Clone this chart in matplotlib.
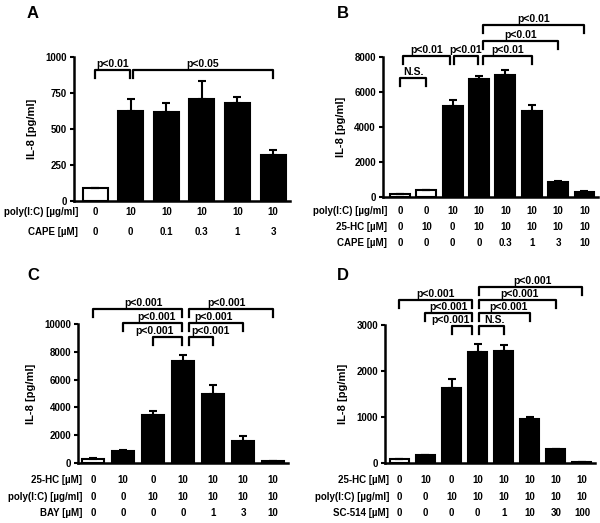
import matplotlib
matplotlib.use('Agg')
import matplotlib.pyplot as plt

plt.rcParams['font.family'] = ['Liberation Sans', 'DejaVu Sans']
plt.rcParams['font.weight'] = 'bold'

# Panel A
a_vals = [89, 624, 616, 711, 682, 322]
a_err = [0, 87, 66, 124, 40, 31]
a_white = [0]
a_rows = [('poly(I:C) [µg/ml]', ['0', '10', '10', '10', '10', '10']),
          ('CAPE [µM]', ['0', '0', '0.1', '0.3', '1', '3'])]
a_ticks = [0, 250, 500, 750, 1000]
# (left, right, height, text, text x or None)
a_brackets = [(0, 0.97, 910, 'p<0.01', None), (1.05, 5, 910, 'p<0.05', None)]

# Panel B
b_vals = [200, 380, 5187, 6723, 6948, 4906, 870, 300]
b_err = [0, 0, 375, 187, 337, 375, 40, 20]
b_white = [0, 1]
b_rows = [('poly(I:C) [µg/ml]', ['0', '0', '10', '10', '10', '10', '10', '10']),
          ('25-HC [µM]', ['0', '10', '0', '10', '10', '10', '10', '10']),
          ('CAPE [µM]', ['0', '0', '0', '0', '0.3', '1', '3', '10'])]
b_ticks = [0, 2000, 4000, 6000, 8000]
b_brackets = [(0, 1, 6800, 'N.S.', None), (0.1, 1.9, 8057, 'p<0.01', None),
              (2.05, 2.95, 8057, 'p<0.01', None), (3.15, 5, 8057, 'p<0.01', None),
              (3.15, 6, 8914, 'p<0.01', None), (3.15, 7, 9829, 'p<0.01', None)]

# Panel C
c_vals = [300, 900, 3450, 7321, 4976, 1579, 120]
c_err = [40, 60, 263, 454, 646, 335, 20]
c_white = [0]
c_rows = [('25-HC [µM]', ['0', '10', '0', '10', '10', '10', '10']),
          ('poly(I:C) [µg/ml]', ['0', '0', '10', '10', '10', '10', '10']),
          ('BAY [µM]', ['0', '0', '0', '0', '1', '3', '10'])]
c_ticks = [0, 2000, 4000, 6000, 8000, 10000]
c_brackets = [(0, 2.95, 11100, 'p<0.001', 1.67), (1, 2.95, 10070, 'p<0.001', 2.1),
              (2, 2.95, 9065, 'p<0.001', 2.05), (3.2, 4, 9065, 'p<0.001', 3.9),
              (3.2, 5, 10070, 'p<0.001', 4.03), (3.2, 6, 11100, 'p<0.001', 4.45)]

# Panel D
d_vals = [80, 166, 1627, 2422, 2444, 962, 296, 22]
d_err = [0, 0, 202, 166, 130, 28, 15, 0]
d_white = [0]
d_rows = [('25-HC [µM]', ['0', '10', '0', '10', '10', '10', '10', '10']),
          ('poly(I:C) [µg/ml]', ['0', '0', '10', '10', '10', '10', '10', '10']),
          ('SC-514 [µM]', ['0', '0', '0', '0', '1', '10', '30', '100'])]
d_ticks = [0, 1000, 2000, 3000]
d_brackets = [(0, 2.8, 3537, 'p<0.001', None), (1, 2.8, 3261, 'p<0.001', None),
              (2, 2.8, 2972, 'p<0.001', 1.95), (3.07, 4, 2972, 'N.S.', 3.64),
              (3.07, 5, 3261, 'p<0.001', 4.2), (3.07, 6, 3537, 'p<0.001', 4.6),
              (3.07, 7, 3826, 'p<0.001', 5.1)]


def panel(ax, vals, err, white, rows, ticks, brackets, width, xlim, drop, row_off):
    n = len(vals)
    x = list(range(n))
    colors = ['white' if i in white else 'black' for i in x]
    ax.bar(x, vals, width=width, color=colors, edgecolor='black', linewidth=1.5,
           yerr=[[0] * n, err], error_kw=dict(ecolor='black', elinewidth=1.5, capsize=3, capthick=1.5),
           zorder=2)
    ax.set_xlim(*xlim)
    ax.set_ylim(0, ticks[-1])
    ax.set_yticks(ticks)
    ax.set_xticks([])
    ax.spines['top'].set_visible(False)
    ax.spines['right'].set_visible(False)
    ax.spines['left'].set_linewidth(1.8)
    ax.spines['bottom'].set_linewidth(1.8)
    ax.tick_params(axis='y', length=3, width=1.5, labelsize=7, pad=2)
    ax.set_ylabel('IL-8 [pg/ml]', fontsize=8, fontweight='bold', labelpad=6)
    for (name, values), off in zip(rows, row_off):
        ax.annotate(name, xy=(0, 0), xycoords='axes fraction', xytext=(3, -off),
                    textcoords='offset points', ha='right', va='center', fontsize=7, fontweight='bold')
        for i, v in enumerate(values):
            ax.annotate(v, xy=(i, 0), xycoords=('data', 'axes fraction'), xytext=(0, -off),
                        textcoords='offset points', ha='center', va='center', fontsize=7, fontweight='bold')
    for x1, x2, y, text, tx in brackets:
        ax.plot([x1, x1, x2, x2], [y - drop, y, y, y - drop], color='black', lw=1.6, clip_on=False)
        if tx is None:
            tx = (x1 + x2) / 2
        ax.text(tx, y + drop * 0.1, text, ha='center', va='bottom', fontsize=7.5,
                fontweight='bold', clip_on=False)


fig = plt.figure(figsize=(6, 5.23), dpi=100)
ax_a = fig.add_axes([0.123, 0.6157, 0.36, 0.2753])
ax_b = fig.add_axes([0.638, 0.6233, 0.358, 0.2677])
ax_c = fig.add_axes([0.13, 0.1147, 0.35, 0.2658])
ax_d = fig.add_axes([0.6417, 0.1147, 0.35, 0.2639])

panel(ax_a, a_vals, a_err, a_white, a_rows, a_ticks, a_brackets, 0.7, (-0.6, 5.47), 55, [8, 22])
panel(ax_b, b_vals, b_err, b_white, b_rows, b_ticks, b_brackets, 0.75, (-0.65, 7.5), 480, [10, 21.6, 33])
panel(ax_c, c_vals, c_err, c_white, c_rows, c_ticks, c_brackets, 0.72, (-0.5, 6.5), 575, [12, 24.5, 36])
panel(ax_d, d_vals, d_err, d_white, d_rows, d_ticks, d_brackets, 0.73, (-0.55, 7.5), 174, [12, 24.5, 36])

for lab, xp, yp in [('A', 27, 6), ('B', 337, 6), ('C', 27, 268), ('D', 337, 268)]:
    fig.text(xp / 600, 1 - yp / 523, lab, fontsize=12, fontweight='bold', va='top', ha='left')

fig.savefig('out.png', dpi=100)
